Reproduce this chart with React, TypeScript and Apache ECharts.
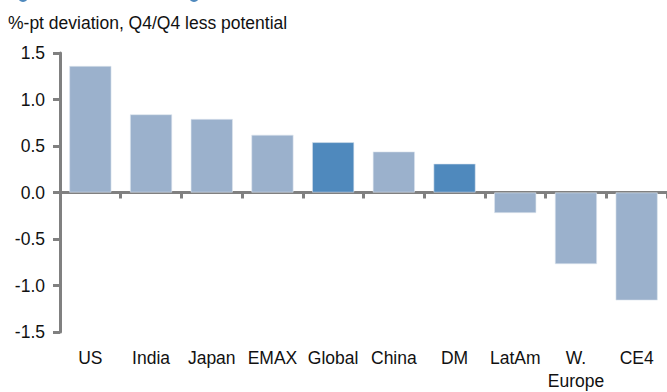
import React, { useEffect, useRef } from "react";
import * as echarts from "echarts";

const categories = ["US", "India", "Japan", "EMAX", "Global", "China", "DM", "LatAm", "W.\nEurope", "CE4"];
const deviation = [1.36, 0.84, 0.79, 0.62, 0.54, 0.44, 0.31, -0.22, -0.77, -1.16];
const aggregates = ["Global", "DM"];
const yTicks = [-1.5, -1.0, -0.5, 0.0, 0.5, 1.0, 1.5];

const LIGHT = "#9bb1cc";
const DARK = "#4f89bd";
const AXIS = "#808080";
const INK = "#111111";
const FONT = "Liberation Sans, Arial, sans-serif";

export default function App() {
  const ref = useRef<HTMLDivElement>(null);

  useEffect(() => {
    if (!ref.current) return;
    const chart = echarts.init(ref.current, undefined, { renderer: "svg" });
    chart.setOption({
      animation: false,
      backgroundColor: "#ffffff",
      textStyle: { fontFamily: FONT },
      grid: { left: 60, top: 53, width: 608, height: 280, containLabel: false },
      graphic: [
        {
          type: "text",
          left: 8,
          top: 14,
          style: { text: "%-pt deviation, Q4/Q4 less potential", fontSize: 17.5, fill: INK, fontFamily: FONT },
        },
        { type: "circle", shape: { cx: 23, cy: -3, r: 5 }, style: { fill: DARK } },
        { type: "circle", shape: { cx: 194, cy: -3, r: 5 }, style: { fill: DARK } },
      ],
      xAxis: [
        {
          // category names along the bottom edge
          type: "category",
          data: categories,
          position: "bottom",
          axisLine: { show: false, onZero: false },
          axisTick: { show: false },
          axisLabel: { color: INK, fontSize: 17.5, margin: 14, lineHeight: 23, fontFamily: FONT, interval: 0 },
        },
        {
          // baseline with category ticks at y = 0
          type: "category",
          data: categories,
          position: "bottom",
          axisLine: { show: true, onZero: true, lineStyle: { color: AXIS, width: 3 } },
          axisTick: { show: true, interval: 0, length: 6, lineStyle: { color: AXIS, width: 3 } },
          axisLabel: { show: false },
        },
      ],
      yAxis: {
        type: "value",
        min: -1.5,
        max: 1.5,
        interval: 0.5,
        axisLine: { show: true, lineStyle: { color: AXIS, width: 3 } },
        axisTick: { show: true, length: 7, lineStyle: { color: AXIS, width: 3 } },
        splitLine: { show: false },
        axisLabel: {
          color: INK,
          fontSize: 17.5,
          margin: 15,
          fontFamily: FONT,
          formatter: (v: number) => (yTicks.includes(v) ? v.toFixed(1) : ""),
        },
      },
      series: [
        {
          type: "bar",
          xAxisIndex: 0,
          barWidth: 42,
          data: deviation.map((v, i) => ({
            value: v,
            itemStyle: {
              color: aggregates.includes(categories[i]) ? DARK : LIGHT,
              borderColor: "#dde5ef",
              borderWidth: 0.6,
            },
          })),
        },
      ],
    });
    return () => chart.dispose();
  }, []);

  return <div ref={ref} style={{ width: 667, height: 392, position: "absolute", left: 0, top: 0 }} />;
}
